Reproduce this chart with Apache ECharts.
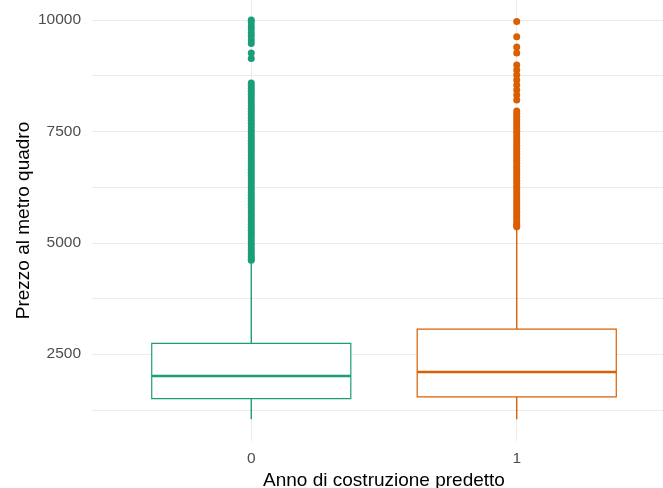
<!DOCTYPE html>
<html>
<head>
<meta charset="utf-8">
<script src="https://cdn.jsdelivr.net/npm/echarts@6/dist/echarts.min.js"></script>
<style>
html,body{margin:0;padding:0;background:#fff;}
#chart{width:663px;height:488px;}
</style>
</head>
<body>
<div id="chart"></div>
<script>
// Categories (x tick labels)
const categories = ['0', '1'];
// Box statistics per category: [lower whisker, Q1, median, Q3, upper whisker]
const boxStats0 = [1040, 1500, 2010, 2740, 4590];
const boxStats1 = [1040, 1540, 2100, 3060, 5350];
// Outliers
const outliers0 = [10000, 9956, 9866, 9799, 9709, 9642, 9552, 9473, 9260, 9137,
  8587, 8530, 8465, 8400, 8335, 8270, 8205, 8140, 8075, 8010, 7945, 7880, 7815, 7750,
  7685, 7620, 7555, 7490, 7425, 7360, 7295, 7230, 7165, 7100, 7035, 6970, 6905, 6840,
  6775, 6710, 6645, 6580, 6515, 6450, 6385, 6320, 6255, 6190, 6125, 6060, 5995, 5930,
  5865, 5800, 5735, 5670, 5605, 5540, 5475, 5410, 5345, 5280, 5215, 5150, 5085, 5020,
  4955, 4890, 4825, 4760, 4695, 4640, 4610];
const outliers1 = [9970, 9626, 9395, 9260, 8991, 8879, 8766, 8654, 8542, 8430, 8317, 8205,
  7958, 7895, 7830, 7765, 7700, 7635, 7570, 7505, 7440, 7375, 7310, 7245, 7180, 7115,
  7050, 6985, 6920, 6855, 6790, 6725, 6660, 6595, 6530, 6465, 6400, 6335, 6270, 6205,
  6140, 6075, 6010, 5945, 5880, 5815, 5750, 5685, 5620, 5555, 5490, 5425, 5380, 5361];
// Axis ticks
const yMajorTicks = [2500, 5000, 7500, 10000];
const yAllGrid = [1250, 2500, 3750, 5000, 6250, 7500, 8750, 10000];
const xTicks = [0, 1];

const palette = ['#1B9E77', '#D95F02'];
const font = "'Liberation Sans', Arial, sans-serif";

const boxData = [[0].concat(boxStats0), [1].concat(boxStats1)];

const chart = echarts.init(document.getElementById('chart'), null, {renderer: 'canvas'});
chart.setOption({
  backgroundColor: '#ffffff',
  animation: false,
  textStyle: {fontFamily: font},
  grid: {left: 92, top: 0, width: 584, height: 441, containLabel: false, outerBoundsMode: 'none'},
  xAxis: {
    type: 'value', min: -0.6, max: 1.6,
    name: 'Anno di costruzione predetto', nameLocation: 'middle', nameGap: 30,
    nameMoveOverlap: false,
    nameTextStyle: {fontSize: 19, color: '#000', fontFamily: font},
    axisLine: {show: false},
    axisTick: {show: false, customValues: xTicks},
    axisLabel: {customValues: xTicks, fontSize: 15.5, color: '#4D4D4D', margin: 10, fontFamily: font,
      formatter: v => categories[Math.round(v)]},
    splitLine: {show: true, lineStyle: {color: '#EBEBEB', width: 1}}
  },
  yAxis: {
    type: 'value', min: 550, max: 10450,
    name: 'Prezzo al metro quadro', nameLocation: 'middle', nameGap: 59,
    nameMoveOverlap: false,
    nameTextStyle: {fontSize: 19, color: '#000', fontFamily: font},
    axisLine: {show: false},
    axisTick: {show: false, customValues: yAllGrid},
    axisLabel: {customValues: yMajorTicks, fontSize: 15.5, color: '#4D4D4D', margin: 11, fontFamily: font,
      formatter: v => String(v)},
    splitLine: {show: true, lineStyle: {color: '#EBEBEB', width: 1}}
  },
  series: [
    {
      type: 'custom',
      data: boxData,
      encode: {x: 0, y: [1, 2, 3, 4, 5]},
      z: 2,
      renderItem: function (params, api) {
        const x = api.value(0);
        const lo = api.coord([x, api.value(1)]);
        const q1 = api.coord([x, api.value(2)]);
        const md = api.coord([x, api.value(3)]);
        const q3 = api.coord([x, api.value(4)]);
        const hi = api.coord([x, api.value(5)]);
        const w = api.size([0.75, 0])[0];
        const cx = q1[0];
        const color = palette[params.dataIndex];
        const ww = 1.4;
        return {
          type: 'group',
          children: [
            {type: 'rect', shape: {x: cx - ww / 2, y: hi[1], width: ww, height: q3[1] - hi[1]},
              style: {fill: color, stroke: null}},
            {type: 'rect', shape: {x: cx - ww / 2, y: q1[1], width: ww, height: lo[1] - q1[1]},
              style: {fill: color, stroke: null}},
            {type: 'rect', shape: {x: cx - w / 2, y: q3[1], width: w, height: q1[1] - q3[1]},
              style: {fill: '#ffffff', stroke: color, lineWidth: 1.2}},
            {type: 'rect', shape: {x: cx - w / 2, y: md[1] - 1.3, width: w, height: 2.6},
              style: {fill: color, stroke: null}}
          ]
        };
      }
    },
    {
      type: 'scatter', z: 3,
      data: outliers0.map(v => [0, v]),
      symbolSize: 7,
      itemStyle: {color: palette[0], opacity: 1}
    },
    {
      type: 'scatter', z: 3,
      data: outliers1.map(v => [1, v]),
      symbolSize: 7,
      itemStyle: {color: palette[1], opacity: 1}
    }
  ]
});
</script>
</body>
</html>
